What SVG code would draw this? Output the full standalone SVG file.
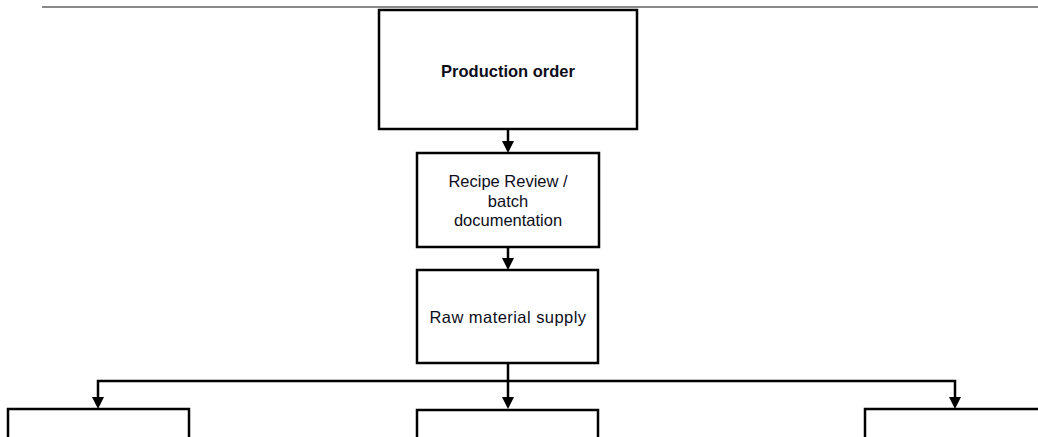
<svg xmlns="http://www.w3.org/2000/svg" width="1038" height="437" viewBox="0 0 1038 437">
<defs>
<style>
.box{fill:#fff;stroke:#000;stroke-width:2.5}
.conn{fill:none;stroke:#000;stroke-width:2.5}
.t{font-family:"Liberation Sans",Arial,sans-serif;font-size:16.5px;fill:#0d0d1a;text-anchor:middle}
.b{font-weight:bold}
</style>
</defs>
<line x1="42" y1="7" x2="1038" y2="7" stroke="#888" stroke-width="2"/>
<g id="connectors">
<line class="conn" x1="508" y1="129" x2="508" y2="141"/>
<path d="M502,141 L514,141 L508,153 Z"/>
<line class="conn" x1="508" y1="247" x2="508" y2="258"/>
<path d="M502,258 L514,258 L508,270 Z"/>
<line class="conn" x1="508" y1="363" x2="508" y2="397"/>
<path d="M502,397 L514,397 L508,409 Z"/>
<polyline class="conn" points="98,397 98,381 955,381 955,397"/>
<path d="M92,397 L104,397 L98,409 Z"/>
<path d="M949,397 L961,397 L955,409 Z"/>
</g>
<g id="production-order">
<rect class="box" x="379" y="10" width="258" height="119" stroke-width="3"/>
<text class="t b" x="508" y="77">Production order</text>
</g>
<g id="recipe-review">
<rect class="box" x="417" y="153" width="182" height="94"/>
<text class="t" x="508" y="187">Recipe Review /</text>
<text class="t" x="508" y="207">batch</text>
<text class="t" x="508" y="226">documentation</text>
</g>
<g id="raw-material">
<rect class="box" x="417" y="270" width="181" height="93"/>
<text class="t" x="508" y="323" letter-spacing="0.45">Raw material supply</text>
</g>
<g id="left-box">
<rect class="box" x="8" y="409" width="181" height="40"/>
</g>
<g id="middle-box">
<rect class="box" x="417" y="410" width="181" height="40"/>
</g>
<g id="right-box">
<rect class="box" x="865" y="409" width="200" height="40"/>
</g>
</svg>
